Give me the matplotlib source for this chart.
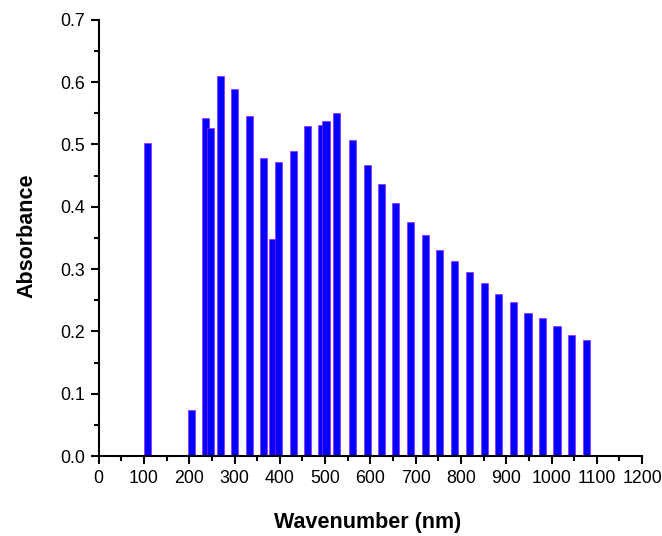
import matplotlib
matplotlib.use("Agg")
import matplotlib.pyplot as plt
from matplotlib.ticker import MultipleLocator, FormatStrFormatter

# wavenumber positions (nm) and absorbance
wavenumber = [107, 205, 235, 246, 268, 301, 333, 365, 384, 398, 430, 462,
              491, 502, 526, 560, 593, 624, 656, 688, 721, 752, 785, 819,
              852, 883, 915, 948, 981, 1012, 1045, 1078]
absorbance = [0.502, 0.074, 0.542, 0.527, 0.610, 0.589, 0.545, 0.479, 0.349,
              0.472, 0.489, 0.529, 0.532, 0.537, 0.550, 0.507, 0.467, 0.436,
              0.406, 0.376, 0.354, 0.331, 0.313, 0.296, 0.278, 0.260, 0.247,
              0.230, 0.222, 0.209, 0.195, 0.187]

plt.rcParams["font.family"] = ["Liberation Sans", "DejaVu Sans"]

fig = plt.figure(figsize=(6.62, 5.36), dpi=100)
ax = fig.add_axes([0.149, 0.149, 0.821, 0.814])

ax.bar(wavenumber, absorbance, width=15.5, color="#0000ff",
       edgecolor="#a020ff", linewidth=0.5)

ax.set_xlim(0, 1200)
ax.set_ylim(0, 0.7)
ax.xaxis.set_major_locator(MultipleLocator(100))
ax.xaxis.set_minor_locator(MultipleLocator(50))
ax.yaxis.set_major_locator(MultipleLocator(0.1))
ax.yaxis.set_minor_locator(MultipleLocator(0.05))
ax.yaxis.set_major_formatter(FormatStrFormatter("%.1f"))

for side in ("top", "right"):
    ax.spines[side].set_visible(False)
for side in ("left", "bottom"):
    ax.spines[side].set_linewidth(1.5)

ax.tick_params(which="major", direction="out", length=6, width=1.5,
               labelsize=12.8, pad=4)
ax.tick_params(which="minor", direction="out", length=3.5, width=1.5)

# axis titles placed in figure coords to match the reference layout
fig.text(0.556, 0.026, "Wavenumber (nm)", fontsize=15.5, fontweight="bold",
         ha="center", va="center")
fig.text(0.040, 0.560, "Absorbance", fontsize=15.5, fontweight="bold",
         rotation=90, ha="center", va="center")

fig.savefig("out.png", dpi=100)
